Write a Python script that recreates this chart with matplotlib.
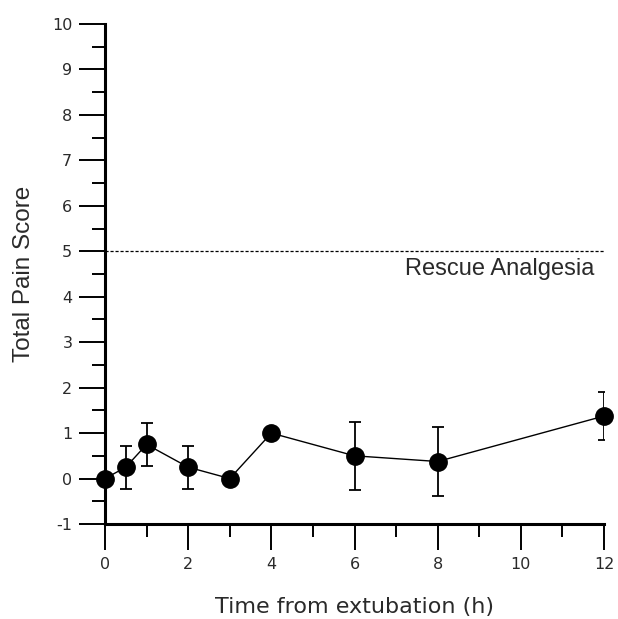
import matplotlib.pyplot as plt
from matplotlib.ticker import MultipleLocator

# Pain score over time after extubation (mean +/- SEM)
hours = [0, 0.5, 1, 2, 3, 4, 6, 8, 12]
pain_mean = [0, 0.25, 0.75, 0.25, 0, 1.0, 0.5, 0.375, 1.375]
pain_err = [0, 0.47, 0.47, 0.47, 0, 0, 0.75, 0.75, 0.53]
rescue_level = 5

text_col = '#2a2a2a'
plt.rcParams['font.family'] = ['DejaVu Sans']
plt.rcParams['axes.unicode_minus'] = False

fig = plt.figure(figsize=(6.18, 6.19), dpi=100)
ax = fig.add_axes([105 / 618, 1 - 524 / 619, 499 / 618, 500 / 619])

line, caps, bars = ax.errorbar(hours, pain_mean, yerr=pain_err, fmt='o-', color='black',
                               ms=12.5, lw=1.0, elinewidth=1.3, capsize=4.3, capthick=1.3,
                               zorder=3)
line.set_clip_on(False)

ax.axhline(rescue_level, color='black', lw=0.9, ls=(0, (2.5, 1.5)), zorder=1)
ax.text(11.76, 4.47, 'Rescue Analgesia', ha='right', va='baseline',
        fontsize=17, family='Liberation Sans', color=text_col)

ax.set_xlim(0, 12)
ax.set_ylim(-1, 10)
ax.xaxis.set_major_locator(MultipleLocator(2))
ax.xaxis.set_minor_locator(MultipleLocator(1))
ax.yaxis.set_major_locator(MultipleLocator(1))
ax.yaxis.set_minor_locator(MultipleLocator(0.5))

for side in ['top', 'right']:
    ax.spines[side].set_visible(False)
for side in ['left', 'bottom']:
    ax.spines[side].set_linewidth(2.2)

ax.tick_params(which='major', direction='out', length=18.5, width=1.4,
               labelsize=11.5, labelcolor=text_col, pad=5)
ax.tick_params(which='minor', direction='out', length=9.5, width=1.4)

ax.set_xlabel('Time from extubation (h)', fontsize=16, color=text_col, labelpad=18.5)
ax.set_ylabel('Total Pain Score', fontsize=17.5, family='Liberation Sans',
              color=text_col, labelpad=12)

fig.savefig('out.png', dpi=100)
